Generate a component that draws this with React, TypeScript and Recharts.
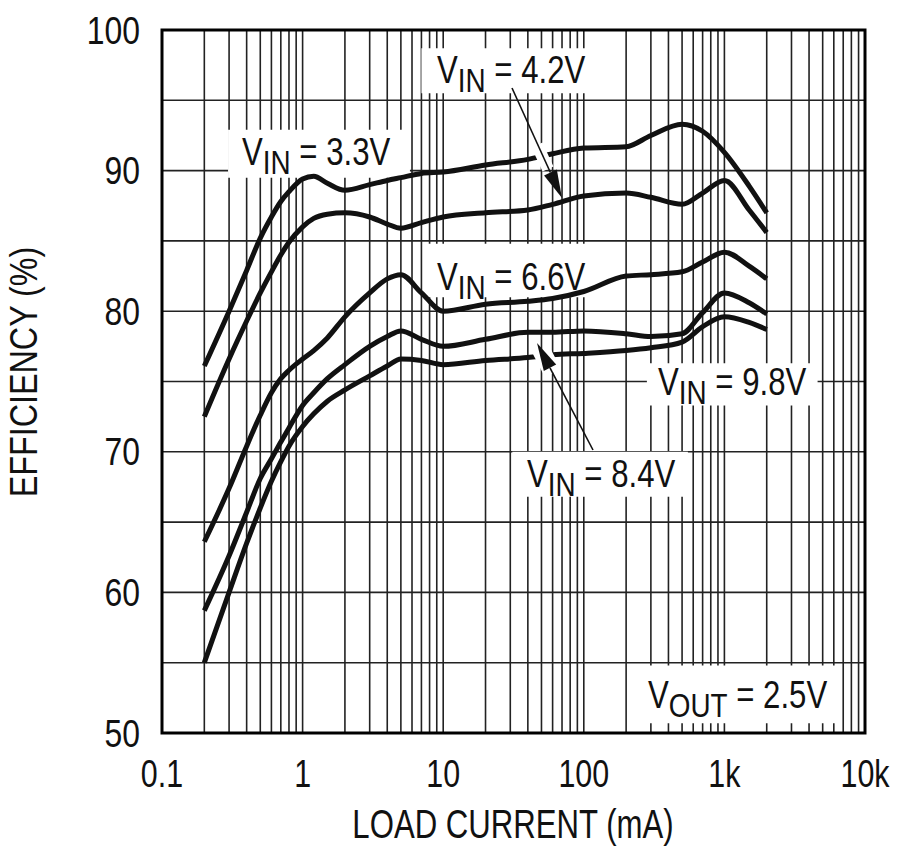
import { LineChart, Line, XAxis, YAxis, CartesianGrid, ReferenceArea } from 'recharts';

if (typeof document !== 'undefined') document.body.style.margin = '0';

const FONT = "'Liberation Sans', Arial, sans-serif";
const INK = '#111';

// load current (mA) where the curves were read
const currents = [0.2, 0.3, 0.4, 0.5, 0.6, 0.7, 0.8, 1, 1.2, 1.5, 2, 3, 4, 5, 7, 10, 20, 40, 60, 100, 200, 300, 500, 700, 1000, 1500, 2000];

// efficiency (%) per input voltage
const vin33 = [76.1, 80.0, 82.9, 85.2, 86.7, 87.8, 88.5, 89.4, 89.6, 89.1, 88.6, 89.0, 89.3, 89.5, 89.8, 89.9, 90.4, 90.8, 91.2, 91.6, 91.7, 92.5, 93.3, 92.8, 91.3, 88.9, 87.0];
const vin42 = [72.5, 76.6, 79.3, 81.3, 82.8, 84.0, 84.9, 86.0, 86.6, 86.9, 87.0, 86.7, 86.2, 85.9, 86.3, 86.7, 87.0, 87.2, 87.6, 88.2, 88.4, 88.1, 87.6, 88.4, 89.3, 87.2, 85.6];
const vin66 = [63.6, 67.4, 70.4, 72.6, 74.2, 75.2, 75.8, 76.6, 77.2, 78.1, 79.6, 81.3, 82.3, 82.6, 81.3, 80.0, 80.5, 80.7, 80.9, 81.4, 82.5, 82.6, 82.8, 83.5, 84.2, 83.2, 82.3];
const vin84 = [58.7, 62.6, 65.7, 68.1, 69.5, 70.7, 71.7, 73.3, 74.2, 75.2, 76.2, 77.5, 78.2, 78.6, 78.0, 77.5, 78.0, 78.5, 78.5, 78.6, 78.4, 78.2, 78.4, 79.9, 81.3, 80.6, 79.8];
const vin98 = [55.0, 60.0, 63.5, 66.0, 67.9, 69.3, 70.4, 71.8, 72.7, 73.6, 74.4, 75.4, 76.1, 76.6, 76.5, 76.2, 76.5, 76.7, 76.9, 77.0, 77.2, 77.4, 77.8, 78.9, 79.6, 79.2, 78.7];

const seriesKeys = ['v33', 'v42', 'v66', 'v84', 'v98'];
const seriesValues = [vin33, vin42, vin66, vin84, vin98];

// axes
const decades = [0.1, 1, 10, 100, 1000, 10000];
const decadeLabels = ['0.1', '1', '10', '100', '1k', '10k'];
const minorSteps = [1, 2, 3, 4, 5, 6, 7, 8, 9];
const yTicks = [50, 55, 60, 65, 70, 75, 80, 85, 90, 95, 100];
const yLabels = ['50', '', '60', '', '70', '', '80', '', '90', '', '100'];

const xTicks = [
  ...decades.slice(0, -1).flatMap(d => minorSteps.map(m => d * m)),
  decades[decades.length - 1],
];

const data = currents.map((c, i) => {
  const row: Record<string, number> = { current: c };
  seriesKeys.forEach((k, j) => { row[k] = seriesValues[j][i]; });
  return row;
});

// white boxes behind the annotations (data coords)
const labelBoxes = [
  { x1: 0.295, x2: 5.8, y1: 89.5, y2: 92.9 },
  { x1: 7.0, x2: 130, y1: 95.5, y2: 98.7 },
  { x1: 7.4, x2: 124, y1: 81.0, y2: 84.8 },
  { x1: 281, x2: 4600, y1: 73.3, y2: 76.3 },
  { x1: 31, x2: 550, y1: 66.8, y2: 70.0 },
  { x1: 251, x2: 6300, y1: 50.7, y2: 54.8 },
];

const xFormat = (v: number) => {
  const i = decades.findIndex(d => Math.abs(d - v) / d < 1e-6);
  return i >= 0 ? decadeLabels[i] : '';
};
const yFormat = (v: number) => {
  const i = yTicks.indexOf(v);
  return i >= 0 ? yLabels[i] : '';
};

// condensed look: Liberation Sans squeezed horizontally
function Cond({ x, y, size, sx = 0.8, anchor = 'start', rotate = 0, dy, children }: any) {
  return (
    <text
      transform={`translate(${x},${y}) rotate(${rotate}) scale(${sx},1)`}
      textAnchor={anchor}
      dy={dy}
      fontSize={size}
      fill={INK}
      fontFamily={FONT}
      style={{ whiteSpace: 'pre' }}
    >
      {children}
    </text>
  );
}

function XTick({ x, y, payload }: any) {
  const s = xFormat(payload.value);
  if (!s) return null;
  return <Cond x={x} y={y} size={38} sx={0.8} anchor="middle" dy="0.71em">{s}</Cond>;
}

function YTick({ x, y, payload }: any) {
  const s = yFormat(payload.value);
  if (!s) return null;
  return <Cond x={x} y={y} size={38} sx={0.84} anchor="end" dy="0.355em">{s}</Cond>;
}

function VLabel({ x, y, sub, rest }: { x: number; y: number; sub: string; rest: string }) {
  return (
    <Cond x={x} y={y} size={38} sx={0.82}>
      V<tspan fontSize={34} dy={9}>{sub}</tspan><tspan dy={-9}>{rest}</tspan>
    </Cond>
  );
}

function Arrow({ x1, y1, x2, y2 }: { x1: number; y1: number; x2: number; y2: number }) {
  const dx = x2 - x1, dy = y2 - y1;
  const len = Math.hypot(dx, dy);
  const ux = dx / len, uy = dy / len;
  const hl = 28, hw = 7;
  const bx = x2 - ux * hl, by = y2 - uy * hl;
  const px = -uy * hw, py = ux * hw;
  return (
    <g>
      <line x1={x1} y1={y1} x2={bx} y2={by} stroke={INK} strokeWidth={1.6} />
      <polygon points={`${x2},${y2} ${bx + px},${by + py} ${bx - px},${by - py}`} fill={INK} />
    </g>
  );
}

export default function App() {
  return (
    <div style={{ position: 'relative', width: 900, height: 850, background: '#fff' }}>
      <LineChart width={900} height={850} data={data} margin={{ top: 30, right: 35, left: 0, bottom: 0 }}>
        <CartesianGrid stroke="#222" strokeWidth={1.6} />
        <XAxis
          dataKey="current"
          type="number"
          scale="log"
          domain={[0.1, 10000]}
          allowDataOverflow
          ticks={xTicks}
          interval={0}
          tick={<XTick />}
          tickLine={false}
          axisLine={false}
          tickSize={0}
          tickMargin={27}
          height={117}
        />
        <YAxis
          type="number"
          domain={[50, 100]}
          ticks={yTicks}
          interval={0}
          tick={<YTick />}
          tickLine={false}
          axisLine={false}
          tickSize={0}
          tickMargin={22}
          width={162}
        />
        {labelBoxes.map((b, i) => (
          <ReferenceArea key={i} x1={b.x1} x2={b.x2} y1={b.y1} y2={b.y2} fill="#fff" fillOpacity={1} stroke="none" ifOverflow="hidden" />
        ))}
        {seriesKeys.map(k => (
          <Line key={k} dataKey={k} type="monotone" stroke={INK} strokeWidth={5} dot={false} isAnimationActive={false} />
        ))}
      </LineChart>
      <svg width={900} height={850} style={{ position: 'absolute', left: 0, top: 0, pointerEvents: 'none' }}>
        <rect x={162} y={30} width={703} height={703} fill="none" stroke="#000" strokeWidth={3} />
        {/* gaps in the curves where the arrows cross */}
        <line x1={537} y1={145} x2={548} y2={169} stroke="#fff" strokeWidth={12} />
        <line x1={541} y1={350} x2={553} y2={373} stroke="#fff" strokeWidth={18} />
        <Arrow x1={512} y1={88} x2={562} y2={198} />
        <Arrow x1={593} y1={450} x2={537} y2={343} />
        <VLabel x={242} y={165} sub="IN" rest=" = 3.3V" />
        <VLabel x={437} y={83} sub="IN" rest=" = 4.2V" />
        <VLabel x={437} y={290} sub="IN" rest=" = 6.6V" />
        <VLabel x={658} y={395} sub="IN" rest=" = 9.8V" />
        <VLabel x={527} y={487} sub="IN" rest=" = 8.4V" />
        <VLabel x={648} y={708} sub="OUT" rest=" = 2.5V" />
        <Cond x={513} y={838} size={41} sx={0.76} anchor="middle">LOAD CURRENT (mA)</Cond>
        <Cond x={37} y={372} size={38} sx={0.85} anchor="middle" rotate={-90}>EFFICIENCY (%)</Cond>
      </svg>
    </div>
  );
}
